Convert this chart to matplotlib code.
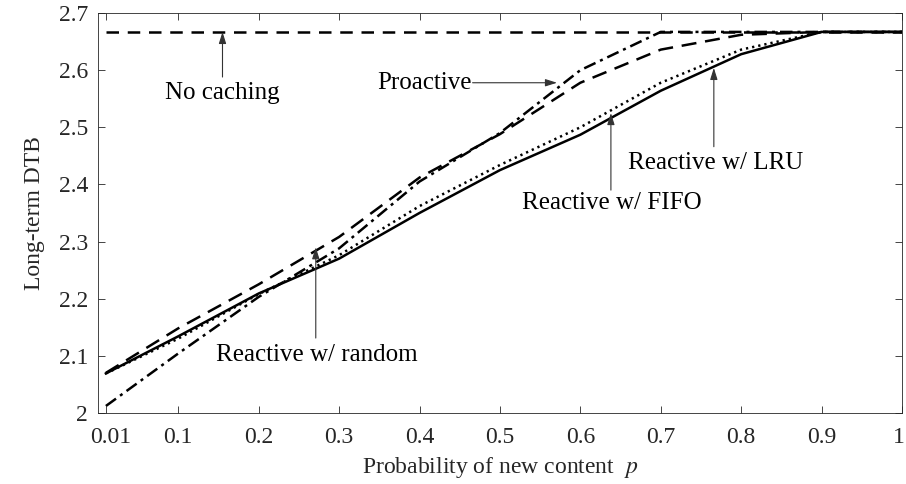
import numpy as np
import matplotlib
matplotlib.use('Agg')
from matplotlib import pyplot as plt
from matplotlib.transforms import ScaledTranslation

# probabilidade de novo conteudo
p = [0.01, 0.1, 0.2, 0.3, 0.4, 0.5, 0.6, 0.7, 0.8, 0.9, 1.0]
xtick_vals = [0.01, 0.1, 0.2, 0.3, 0.4, 0.5, 0.6, 0.7, 0.8, 0.9, 1.0]
xtick_labels = ['0.01', '0.1', '0.2', '0.3', '0.4', '0.5', '0.6', '0.7', '0.8', '0.9', '1']
ytick_vals = [2.0, 2.1, 2.2, 2.3, 2.4, 2.5, 2.6, 2.7]
ytick_labels = ['2', '2.1', '2.2', '2.3', '2.4', '2.5', '2.6', '2.7']

# curvas (long-term DTB)
no_caching = [2.667, 2.667, 2.667, 2.667, 2.667, 2.667, 2.667, 2.667, 2.667, 2.667, 2.667]
proactive = [2.012, 2.104, 2.203, 2.288, 2.405, 2.490, 2.600, 2.667, 2.667, 2.667, 2.667]
reactive_random = [2.070, 2.148, 2.225, 2.308, 2.412, 2.488, 2.578, 2.636, 2.662, 2.667, 2.667]
reactive_fifo = [2.069, 2.130, 2.208, 2.276, 2.362, 2.434, 2.500, 2.578, 2.636, 2.667, 2.667]
reactive_lru = [2.069, 2.134, 2.209, 2.270, 2.350, 2.425, 2.487, 2.564, 2.628, 2.667, 2.667]

plt.rcParams['font.family'] = ['Liberation Serif', 'DejaVu Serif']
plt.rcParams['mathtext.fontset'] = 'stix'

fig = plt.figure(figsize=(9.06, 4.84), dpi=100)
ax = fig.add_axes([0.108, 0.147, 0.8876, 0.826])

lw = 1.8
ax.plot(p, no_caching, color='black', lw=lw, linestyle=(0, (5, 3.5)))
ax.plot(p, proactive, color='black', lw=lw, linestyle=(0, (5, 2, 1.2, 2)))
ax.plot(p, reactive_random, color='black', lw=lw, linestyle=(0, (6, 3.5)))
ax.plot(p, reactive_fifo, color='black', lw=lw, linestyle=(0, (0.9, 1.6)))
ax.plot(p, reactive_lru, color='black', lw=lw, linestyle='-')

ax.set_xlim(0, 1)
ax.set_ylim(2, 2.7)
ax.set_xticks(xtick_vals)
ax.set_xticklabels(xtick_labels)
ax.set_yticks(ytick_vals)
ax.set_yticklabels(ytick_labels)

ax.tick_params(direction='in', length=5, width=0.6, top=True, right=True,
               labelsize=17, colors='#262626')
ax.tick_params(axis='x', pad=10)
ax.tick_params(axis='y', pad=7)
for s in ax.spines.values():
  s.set_linewidth(0.6)
  s.set_color('#262626')

# pequeno deslocamento dos rotulos das pontas (primeiro e ultimo)
xlabs = ax.get_xticklabels()
xlabs[0].set_transform(xlabs[0].get_transform() + ScaledTranslation(0.05, 0, fig.dpi_scale_trans))
xlabs[-1].set_transform(xlabs[-1].get_transform() + ScaledTranslation(-0.03, 0, fig.dpi_scale_trans))

ax.set_xlabel('Probability of new content  $p$', fontsize=17, color='#262626', labelpad=5)
ax.set_ylabel('Long-term DTB', fontsize=17, color='#262626', labelpad=10)

# anotacoes com setas
arrow = dict(arrowstyle='-|>,head_length=0.7,head_width=0.22', color='#333333', lw=0.8,
             shrinkA=0, shrinkB=0)
fs = 18
ax.annotate('', xy=(0.155, 2.667), xytext=(0.155, 2.588), arrowprops=arrow)
ax.text(0.155, 2.56, 'No caching', fontsize=fs, ha='center', va='center')

ax.annotate('', xy=(0.571, 2.578), xytext=(0.466, 2.578), arrowprops=arrow)
ax.text(0.465, 2.578, 'Proactive', fontsize=fs, ha='right', va='center')

ax.annotate('', xy=(0.638, 2.525), xytext=(0.638, 2.39), arrowprops=arrow)
ax.text(0.639, 2.367, 'Reactive w/ FIFO', fontsize=fs, ha='center', va='center')

ax.annotate('', xy=(0.766, 2.604), xytext=(0.766, 2.466), arrowprops=arrow)
ax.text(0.768, 2.437, 'Reactive w/ LRU', fontsize=fs, ha='center', va='center')

ax.annotate('', xy=(0.271, 2.29), xytext=(0.271, 2.131), arrowprops=arrow)
ax.text(0.272, 2.101, 'Reactive w/ random', fontsize=fs, ha='center', va='center')

plt.savefig('out.png', dpi=100)
plt.close()
